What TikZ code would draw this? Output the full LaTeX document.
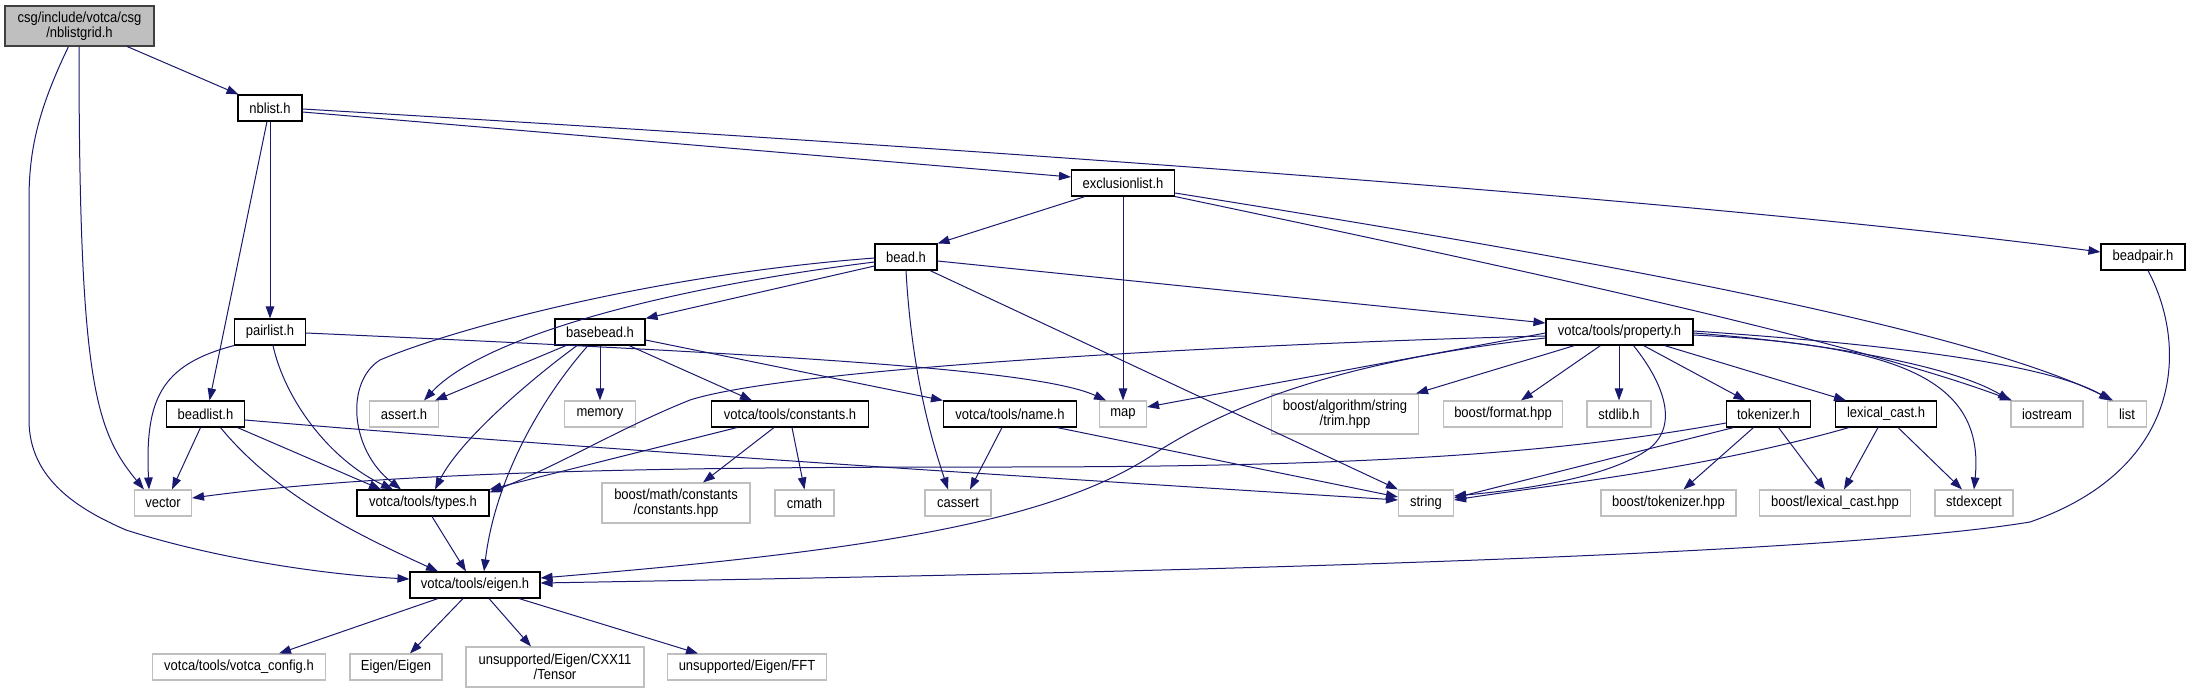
\documentclass[tikz,border=0pt]{standalone}
\usepackage{fontspec}
\setmainfont{Liberation Sans}[FakeStretch=0.89]
\usetikzlibrary{arrows.meta}
\definecolor{edgeblue}{HTML}{191970}
\definecolor{extgray}{HTML}{BFBFBF}
\definecolor{rootfill}{HTML}{BFBFBF}
\definecolor{rootline}{HTML}{404040}
\newcommand{\dxfont}{\fontsize{14.6}{14.5}\selectfont}
\begin{document}
\begin{tikzpicture}[x=1pt,y=-1pt,
  box/.style={rectangle, inner sep=0pt, minimum height=26pt, line width=1.1pt, fill=white, font=\dxfont, align=center, text=black},
  doc/.style={box, draw=black},
  ext/.style={box, draw=extgray},
  rootbox/.style={box, draw=rootline, fill=rootfill, minimum height=40pt},
  tall/.style={minimum height=40pt},
  edge/.style={draw=edgeblue, line width=1pt, -{Triangle[length=12pt,width=8.5pt]}}]
\fill[white] (0,0) rectangle (2190,693);
\useasboundingbox (0,0) rectangle (2190,693);
% nodes
\node[rootbox, minimum width=149pt] (root) at (79.5,26) {csg/include/votca/csg\\/nblistgrid.h};
\node[doc, minimum width=64pt] (nblist) at (270,108) {nblist.h};
\node[doc, minimum width=103pt] (excl) at (1123,183) {exclusionlist.h};
\node[doc, minimum width=62pt] (bead) at (906,257) {bead.h};
\node[doc, minimum width=84pt] (beadpair) at (2143,257) {beadpair.h};
\node[doc, minimum width=71pt] (pairlist) at (270,332) {pairlist.h};
\node[doc, minimum width=90pt] (basebead) at (600,332) {basebead.h};
\node[doc, minimum width=147pt] (property) at (1619.5,332) {votca/tools/property.h};
\node[doc, minimum width=78pt] (beadlist) at (205.5,414) {beadlist.h};
\node[ext, minimum width=69pt] (assert) at (404,414) {assert.h};
\node[ext, minimum width=71pt] (memory) at (600,414) {memory};
\node[doc, minimum width=157pt] (constants) at (790,414) {votca/tools/constants.h};
\node[doc, minimum width=133pt] (name) at (1010,414) {votca/tools/name.h};
\node[ext, minimum width=47pt] (map) at (1123,414) {map};
\node[ext, tall, minimum width=147pt] (trim) at (1345,414) {boost/algorithm/string\\/trim.hpp};
\node[ext, minimum width=119pt] (format) at (1503,414) {boost/format.hpp};
\node[ext, minimum width=64pt] (stdlib) at (1619,414) {stdlib.h};
\node[doc, minimum width=84pt] (tokenizer) at (1768.5,414) {tokenizer.h};
\node[doc, minimum width=101pt] (lexical) at (1886,414) {lexical\_cast.h};
\node[ext, minimum width=72pt] (iostream) at (2047,414) {iostream};
\node[ext, minimum width=39pt] (list) at (2127,414) {list};
\node[ext, minimum width=57pt] (vector) at (163,503) {vector};
\node[doc, minimum width=132pt] (types) at (423,503) {votca/tools/types.h};
\node[ext, tall, minimum width=148pt] (bmconst) at (676,503) {boost/math/constants\\/constants.hpp};
\node[ext, minimum width=59pt] (cmath) at (804.5,503) {cmath};
\node[ext, minimum width=66pt] (cassert) at (958,503) {cassert};
\node[ext, minimum width=55pt] (string) at (1426,503) {string};
\node[ext, minimum width=135pt] (btok) at (1668.5,503) {boost/tokenizer.hpp};
\node[ext, minimum width=151pt] (blex) at (1835,503) {boost/lexical\_cast.hpp};
\node[ext, minimum width=78pt] (stdexcept) at (1974,503) {stdexcept};
\node[doc, minimum width=130pt] (eigen) at (475,585) {votca/tools/eigen.h};
\node[ext, minimum width=173pt] (config) at (239,667) {votca/tools/votca\_config.h};
\node[ext, minimum width=92pt] (EigenEigen) at (396,667) {Eigen/Eigen};
\node[ext, tall, minimum width=178pt] (tensor) at (555,667) {unsupported/Eigen/CXX11\\/Tensor};
\node[ext, minimum width=159pt] (fft) at (747,667) {unsupported/Eigen/FFT};
% edges from root
\draw[edge] (root) -- (nblist);
\draw[edge] ([xshift=-0.5pt]root.south) .. controls (79,380) and (95,430) .. ([xshift=-19pt]vector.north);
\draw[edge] ([xshift=-11pt]root.south) .. controls (38,110) and (29,150) .. (29,200) -- (29,420) .. controls (29,480) and (80,510) .. (126,530) .. controls (220,560) and (330,575) .. ([yshift=6pt]eigen.west);
% nblist
\draw[edge] (nblist) -- (pairlist);
\draw[edge] ([xshift=-3pt]nblist.south) -- ([xshift=4pt]beadlist.north);
\draw[edge] ([yshift=-4pt]nblist.east) -- ([yshift=6pt]excl.west);
\draw[edge] ([yshift=-1pt]nblist.east) .. controls (1000,150) and (1700,200) .. ([yshift=5pt]beadpair.west);
% exclusionlist
\draw[edge] ([xshift=-38pt]excl.south) -- (bead.north east);
\draw[edge] (excl) -- (map);
\draw[edge] (excl.south east) .. controls (1500,265) and (1850,340) .. ([xshift=-35pt]iostream.north);
\draw[edge] ([yshift=-10pt]excl.east) .. controls (1500,245) and (1950,320) .. ([xshift=-14pt]list.north);
% bead
\draw[edge] ([yshift=-9pt]bead.west) -- (basebead.north east);
\draw[edge] ([yshift=-5pt]bead.west) .. controls (650,290) and (480,340) .. ([xshift=20pt]assert.north);
\draw[edge] ([yshift=-1pt]bead.west) .. controls (650,275) and (450,330) .. (380,360) .. controls (345,382) and (350,450) .. ([xshift=-22pt]types.north);
\draw[edge] (bead.south) .. controls (912,380) and (935,450) .. ([xshift=-10pt]cassert.north);
\draw[edge] ([xshift=24pt]bead.south) -- (string.north west);
\draw[edge] ([yshift=-4pt]bead.east) -- ([yshift=9pt]property.west);
% pairlist
\draw[edge] ([yshift=-1pt]pairlist.east) .. controls (800,355) and (1040,370) .. ([xshift=-17pt]map.north);
\draw[edge] (pairlist.south west) .. controls (160,365) and (145,400) .. ([xshift=-14pt]vector.north);
\draw[edge] ([xshift=3pt]pairlist.south) .. controls (285,400) and (330,460) .. ([xshift=-30pt]types.north);
% beadlist
\draw[edge] ([xshift=-5pt]beadlist.south) -- ([xshift=9pt]vector.north);
\draw[edge] ([xshift=32pt]beadlist.south) -- ([xshift=-42pt]types.north);
\draw[edge] ([xshift=15pt]beadlist.south) .. controls (280,500) and (370,540) .. ([xshift=-37pt]eigen.north);
\draw[edge] ([yshift=-6pt]beadlist.east) .. controls (600,450) and (1000,475) .. ([yshift=3pt]string.west);
% basebead
\draw[edge] ([xshift=-34pt]basebead.south) -- ([xshift=31pt]assert.north);
\draw[edge] (basebead) -- (memory);
\draw[edge] ([xshift=-23pt]basebead.south) .. controls (530,380) and (460,440) .. ([xshift=12pt]types.north);
\draw[edge] ([xshift=-12pt]basebead.south) .. controls (540,400) and (495,480) .. ([xshift=9pt]eigen.north);
\draw[edge] ([xshift=29pt]basebead.south) -- ([xshift=-38pt]constants.north);
\draw[edge] ([yshift=-8pt]basebead.east) -- (name.north west);
% constants, name, types
\draw[edge] ([xshift=-53pt]constants.south) -- (types.north east);
\draw[edge] ([xshift=-16pt]constants.south) -- ([xshift=27pt]bmconst.north);
\draw[edge] ([xshift=2pt]constants.south) -- (cmath.north);
\draw[edge] ([xshift=-8pt]name.south) -- ([xshift=12pt]cassert.north);
\draw[edge] ([xshift=47pt]name.south) -- ([yshift=6pt]string.west);
\draw[edge] ([xshift=9pt]types.south) -- ([xshift=-9pt]eigen.north);
% eigen
\draw[edge] ([xshift=-37pt]eigen.south) -- ([xshift=40pt]config.north);
\draw[edge] ([xshift=-12pt]eigen.south) -- ([xshift=14pt]EigenEigen.north);
\draw[edge] ([xshift=14pt]eigen.south) -- ([xshift=-24pt]tensor.north);
\draw[edge] ([xshift=44pt]eigen.south) -- ([xshift=-49pt]fft.north);
% property
\draw[edge] ([yshift=-4pt]property.west) .. controls (1300,342) and (800,365) .. (690,400) .. controls (620,428) and (560,465) .. ([yshift=-3pt]types.north east);
\draw[edge] ([yshift=-1pt]property.west) -- ([yshift=7pt]map.east);
\draw[edge] ([yshift=-6pt]property.west) .. controls (1350,360) and (1240,400) .. (1160,450) .. controls (1060,520) and (880,550) .. ([yshift=7pt]eigen.east);
\draw[edge] ([xshift=-45pt]property.south) -- ([xshift=-3pt]trim.north east);
\draw[edge] ([xshift=-19pt]property.south) -- ([xshift=18pt]format.north);
\draw[edge] ([xshift=-0.5pt]property.south) -- (stdlib.north);
\draw[edge] ([xshift=24pt]property.south) -- ([xshift=-23pt]tokenizer.north);
\draw[edge] ([xshift=45pt]property.south) -- ([xshift=-40pt]lexical.north);
\draw[edge] ([xshift=14pt]property.south) .. controls (1665,385) and (1678,425) .. (1650,448) .. controls (1610,478) and (1520,490) .. ([yshift=7pt]string.east);
\draw[edge] ([yshift=-3pt]property.east) .. controls (1900,345) and (1985,380) .. (stdexcept.north);
\draw[edge] ([yshift=-1pt]property.east) .. controls (1850,345) and (1960,370) .. ([xshift=-37pt]iostream.north);
\draw[edge] ([yshift=1pt]property.east) .. controls (1900,345) and (2050,365) .. ([xshift=-16pt]list.north);
% beadpair
\draw[edge] ([xshift=5pt]beadpair.south) .. controls (2190,350) and (2180,470) .. (2030,522) .. controls (1800,560) and (1000,575) .. ([yshift=2pt]eigen.east);
% tokenizer, lexical_cast
\draw[edge] ([yshift=-9pt]tokenizer.west) .. controls (1550,455) and (1350,467) .. (1000,467) .. controls (700,467) and (400,470) .. ([yshift=5pt]vector.east);
\draw[edge] ([xshift=-35pt]tokenizer.south) -- ([yshift=5pt]string.east);
\draw[edge] ([xshift=-15pt]tokenizer.south) -- ([xshift=15pt]btok.north);
\draw[edge] ([xshift=10pt]tokenizer.south) -- ([xshift=-10pt]blex.north);
\draw[edge] ([xshift=-8pt]lexical.south) -- ([xshift=9pt]blex.north);
\draw[edge] ([xshift=12pt]lexical.south) -- ([xshift=-12pt]stdexcept.north);
\draw[edge] ([xshift=-37pt]lexical.south) .. controls (1700,470) and (1550,485) .. ([yshift=3pt]string.east);
\end{tikzpicture}
\end{document}
